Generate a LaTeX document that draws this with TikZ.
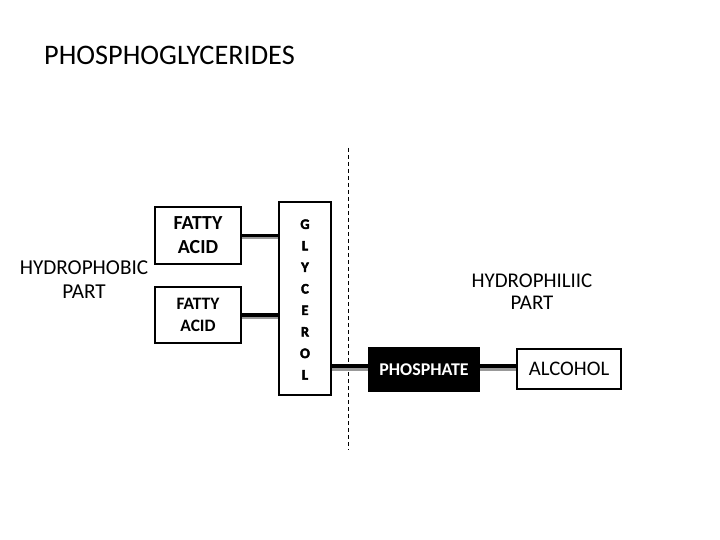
\documentclass[tikz,border=0pt]{standalone}
\usepackage{fontspec}
\setmainfont{Carlito}
\newfontfamily\heavyfont{Carlito}[BoldFeatures={FakeBold=3}]
\begin{document}
\begin{tikzpicture}[x=1bp,y=-1bp,
  box/.style={draw=black, line width=2.8bp, fill=white, inner sep=0pt, align=center},
  conn/.style={draw=black, line width=3.2bp},
  shade/.style={draw=black!40, line width=3bp, transform canvas={yshift=-2.4bp}},
  lbl/.style={align=center, inner sep=0pt}]
\useasboundingbox (0,0) rectangle (720,540);
\node[lbl, anchor=west, font=\fontsize{28.4}{30}\selectfont] (title) at (44,55) {PHOSPHOGLYCERIDES};
\node[lbl, font=\fontsize{21.3}{24}\selectfont] (phob) at (84,280) {HYDROPHOBIC\\PART};
\node[lbl, font=\fontsize{21}{22.5}\selectfont] (phil) at (532,292) {HYDROPHILIIC\\PART};
\node[box, minimum width=86bp, minimum height=57bp, font=\fontsize{20}{24}\selectfont\bfseries] (fa1) at (198,235.5) {FATTY\\ACID};
\node[box, minimum width=86bp, minimum height=56bp, font=\fontsize{17.5}{22}\selectfont\bfseries] (fa2) at (198,315) {FATTY\\ACID};
\node[box, minimum width=52bp, minimum height=193bp] (gly) at (305,298.5) {};
\node[lbl, font=\heavyfont\bfseries\fontsize{14.5}{21.6}\selectfont] (glytext) at (305,299.5) {G\\L\\Y\\C\\E\\R\\O\\L};
\node[box, fill=black, text=white, minimum width=110bp, minimum height=43bp, font=\fontsize{18}{20}\selectfont\bfseries] (phos) at (424,369.5) {PHOSPHATE};
\node[box, minimum width=104bp, minimum height=40bp, font=\fontsize{20.8}{22}\selectfont] (alc) at (569,369) {ALCOHOL};
\coordinate (dtop) at (348,148);
\coordinate (dbot) at (348,450);
\draw[black, line width=0.9bp, dash pattern=on 4bp off 3bp] (dtop) -- (dbot);
\draw[shade] (fa1.east) -- (fa1.east -| gly.west);
\draw[shade] (fa2.east) -- (fa2.east -| gly.west);
\draw[shade] (gly.east |- 0,367) -- (phos.west |- 0,367);
\draw[shade] (phos.east |- 0,367) -- (alc.west |- 0,367);
\draw[conn] (fa1.east) -- (fa1.east -| gly.west);
\draw[conn] (fa2.east) -- (fa2.east -| gly.west);
\draw[conn] (gly.east |- 0,366) -- (phos.west |- 0,366);
\draw[conn] (phos.east |- 0,366) -- (alc.west |- 0,366);
\end{tikzpicture}
\end{document}
